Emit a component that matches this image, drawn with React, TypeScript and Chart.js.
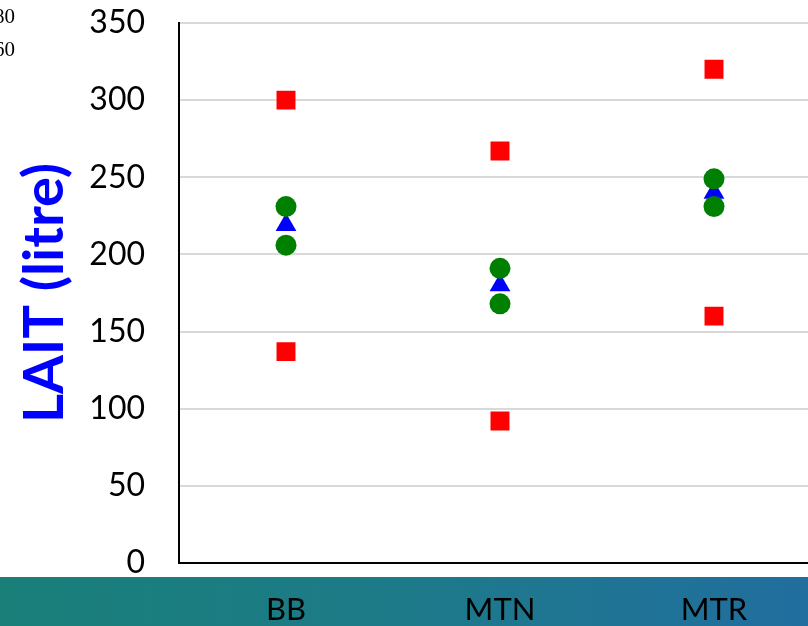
import React, { useEffect, useRef } from "react";
import { Chart, registerables } from "chart.js";

Chart.register(...registerables);

const categories = ["BB", "MTN", "MTR"];
const greenHigh = [231, 191, 249];
const greenLow = [206, 168, 231];
const blueMean = [219, 180, 240];
const redHigh = [300, 267, 320];
const redLow = [137, 92, 160];
const yTicks = [0, 50, 100, 150, 200, 250, 300, 350];
const cornerTexts = ["80", "60"];

const bandPlugin = {
  id: "band",
  beforeDraw(chart: any) {
    const { ctx, width, height } = chart;
    const g = ctx.createLinearGradient(0, 0, 808, 0);
    g.addColorStop(0, "#197f78");
    g.addColorStop(0.5, "#1d7a89");
    g.addColorStop(1, "#216e9f");
    ctx.save();
    ctx.fillStyle = g;
    ctx.fillRect(0, 577, width, height - 577);
    ctx.restore();
  },
};

export default function App() {
  const ref = useRef<HTMLCanvasElement>(null);
  useEffect(() => {
    if (!ref.current) return;
    const mk = (label: string, data: number[], color: string, style: any, r: number) => ({
      label,
      data,
      showLine: false,
      pointStyle: style,
      pointRadius: r,
      pointBackgroundColor: color,
      pointBorderColor: color,
      pointBorderWidth: 0,
      backgroundColor: color,
      borderColor: color,
    });
    const chart = new Chart(ref.current, {
      type: "line",
      data: {
        labels: categories,
        datasets: [
          mk("High", greenHigh, "#008000", "circle", 10.5),
          mk("Low", greenLow, "#008000", "circle", 10.5),
          mk("Mean", blueMean, "#0000ff", "triangle", 12),
          mk("Max", redHigh, "#ff0000", "rect", 13.4),
          mk("Min", redLow, "#ff0000", "rect", 13.4),
        ],
      },
      options: {
        animation: false,
        responsive: true,
        maintainAspectRatio: false,
        layout: { padding: { top: 23, left: 0, right: 19, bottom: 0 } },
        plugins: { legend: { display: false }, tooltip: { enabled: false } },
        scales: {
          x: {
            type: "category",
            offset: true,
            grid: { display: false, drawTicks: false },
            border: { display: true, color: "#000000", width: 2 },
            ticks: {
              color: "#000000",
              padding: 28,
              font: { family: "Lato", size: 31 },
            },
            afterFit: (s: any) => {
              s.height = 63;
              s.paddingLeft = 0;
              s.paddingRight = 0;
            },
          },
          y: {
            min: 0,
            max: 350,
            afterBuildTicks: (s: any) => {
              s.ticks = yTicks.map((v) => ({ value: v }));
            },
            grid: { color: "#d9d9d9", lineWidth: 2, drawTicks: false },
            border: { display: true, color: "#000000", width: 2 },
            ticks: {
              color: "#000000",
              padding: 34,
              font: { family: "Lato", size: 32 },
            },
            title: {
              display: true,
              text: "LAIT (litre)",
              color: "#0000ff",
              font: { family: "Lato", size: 56, weight: "bold" },
              padding: { top: 11, bottom: 0 },
            },
            afterFit: (s: any) => {
              s.width = 179;
              s.paddingTop = 0;
              s.paddingBottom = 0;
            },
          },
        },
      },
      plugins: [bandPlugin],
    });
    return () => chart.destroy();
  }, []);

  return (
    <div
      style={{
        position: "fixed",
        left: 0,
        top: 0,
        width: 808,
        height: 626,
        overflow: "hidden",
        background: "#ffffff",
      }}
    >
      <div style={{ position: "absolute", left: 0, top: 0, width: 840, height: 626 }}>
        <canvas ref={ref} />
      </div>
      {cornerTexts.map((t, i) => (
        <div
          key={t}
          style={{
            position: "absolute",
            left: -6,
            top: 3 + i * 33,
            fontFamily: "'Liberation Serif', serif",
            fontSize: "21px",
            lineHeight: "26px",
            color: "#000",
            whiteSpace: "nowrap",
          }}
        >
          {t}
        </div>
      ))}
    </div>
  );
}
